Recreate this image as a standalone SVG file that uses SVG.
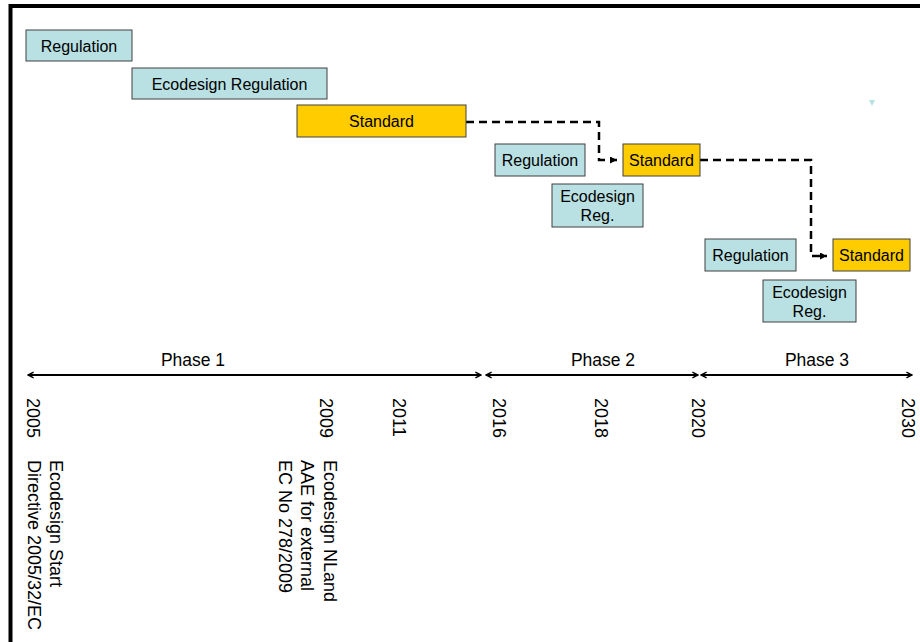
<svg xmlns="http://www.w3.org/2000/svg" width="920" height="642" viewBox="0 0 920 642">
<style>
text{font-family:"Liberation Sans",Arial,sans-serif;fill:#000}
.box{font-size:16px;text-anchor:middle}
.reg{fill:#B9E0E2;stroke:#404040;stroke-width:1}
.std{fill:#FFCC00;stroke:#404040;stroke-width:1}
.phase{font-size:17.5px;text-anchor:middle}
.yr{font-size:18px}
.note{font-size:18px}
.axis{stroke:#000;stroke-width:2;fill:none}
.dash{stroke:#000;stroke-width:2.5;fill:none;stroke-dasharray:8 5}
</style>
<defs>
<marker id="ah" viewBox="0 0 10 10" refX="9" refY="5" markerWidth="7" markerHeight="10" markerUnits="userSpaceOnUse" orient="auto-start-reverse">
<path d="M1,1 L9,5 L1,9" fill="none" stroke="#000" stroke-width="2"/>
</marker>
<marker id="dh" viewBox="0 0 10 10" refX="10" refY="5" markerWidth="7" markerHeight="7" markerUnits="userSpaceOnUse" orient="auto">
<path d="M0,0 L10,5 L0,10 z" fill="#000"/>
</marker>
</defs>
<rect width="920" height="642" fill="#fff"/>
<g id="frame">
<path d="M10.5,642 V6 H920" fill="none" stroke="#000" stroke-width="4"/>
</g>
<polygon points="869,100 875,100 872,106" fill="#B9E0E2"/>
<g id="connectors">
<path class="dash" d="M466,122 H599 V160 H617" marker-end="url(#dh)"/>
<path class="dash" d="M700,160 H811 V256 H827" marker-end="url(#dh)"/>
<line class="axis" x1="28" y1="375" x2="481" y2="375" marker-start="url(#ah)" marker-end="url(#ah)"/>
<line class="axis" x1="486" y1="375" x2="698" y2="375" marker-start="url(#ah)" marker-end="url(#ah)"/>
<line class="axis" x1="701" y1="375" x2="912" y2="375" marker-start="url(#ah)" marker-end="url(#ah)"/>
</g>
<g id="n-regulation1"><rect class="reg" x="26" y="30" width="106" height="31"/><text class="box" x="79" y="51.5">Regulation</text></g>
<g id="n-ecoreg1"><rect class="reg" x="132" y="68" width="195" height="31"/><text class="box" x="229.5" y="89.5">Ecodesign Regulation</text></g>
<g id="n-standard1"><rect class="std" x="297" y="105" width="169" height="32"/><text class="box" x="381.5" y="127">Standard</text></g>
<g id="n-regulation2"><rect class="reg" x="495" y="144" width="90" height="32"/><text class="box" x="540" y="166">Regulation</text></g>
<g id="n-ecoreg2"><rect class="reg" x="552" y="184" width="91" height="43"/><text class="box" x="597.5" y="201.5">Ecodesign</text><text class="box" x="597.5" y="220.5">Reg.</text></g>
<g id="n-standard2"><rect class="std" x="623" y="144" width="77" height="32"/><text class="box" x="661.5" y="166">Standard</text></g>
<g id="n-regulation3"><rect class="reg" x="705" y="239" width="91" height="32"/><text class="box" x="750.5" y="261">Regulation</text></g>
<g id="n-ecoreg3"><rect class="reg" x="763" y="280" width="93" height="42"/><text class="box" x="809.5" y="297.5">Ecodesign</text><text class="box" x="809.5" y="316.5">Reg.</text></g>
<g id="n-standard3"><rect class="std" x="833" y="239" width="77" height="32"/><text class="box" x="871.5" y="261">Standard</text></g>
<g id="phases">
<text class="phase" x="193" y="366">Phase 1</text>
<text class="phase" x="603" y="366">Phase 2</text>
<text class="phase" x="817" y="366">Phase 3</text>
</g>
<g id="years">
<text class="yr" transform="translate(27,398) rotate(90)">2005</text>
<text class="yr" transform="translate(320,398) rotate(90)">2009</text>
<text class="yr" transform="translate(393,398) rotate(90)">2011</text>
<text class="yr" transform="translate(493,398) rotate(90)">2016</text>
<text class="yr" transform="translate(595,398) rotate(90)">2018</text>
<text class="yr" transform="translate(692,398) rotate(90)">2020</text>
<text class="yr" transform="translate(902,398) rotate(90)">2030</text>
</g>
<g id="notes">
<text class="note" transform="translate(50,460) rotate(90)">Ecodesign Start</text>
<text class="note" transform="translate(28,460) rotate(90)">Directive 2005/32/EC</text>
<text class="note" transform="translate(324,460) rotate(90)">Ecodesign NLand</text>
<text class="note" transform="translate(301,460) rotate(90)">AAE for external</text>
<text class="note" transform="translate(279,460) rotate(90)">EC No 278/2009</text>
</g>
</svg>
